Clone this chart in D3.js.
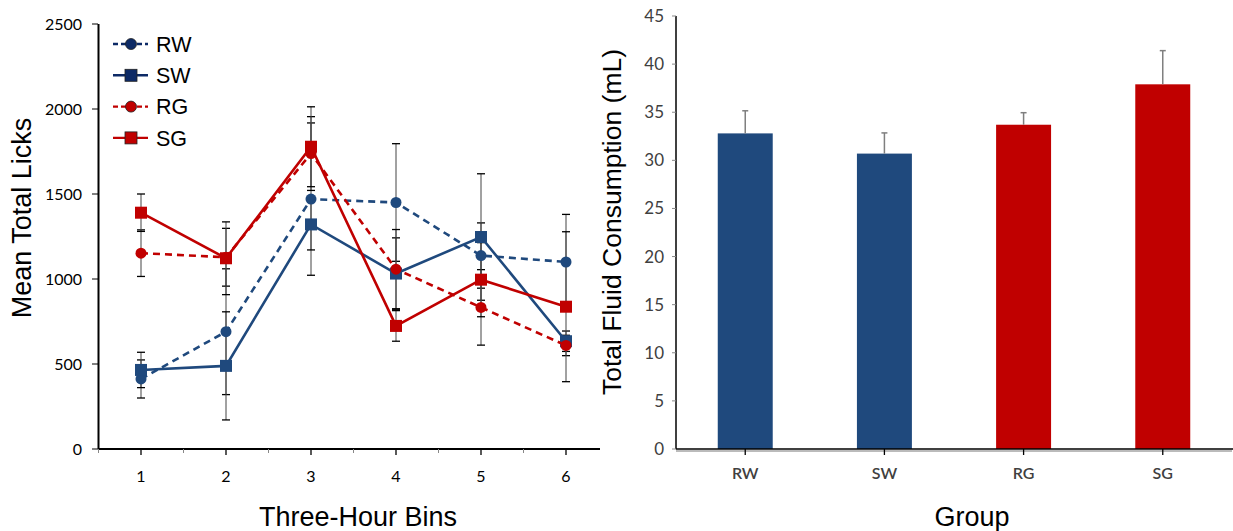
<!DOCTYPE html>
<html><head><meta charset="utf-8">
<script src="https://cdn.jsdelivr.net/npm/d3@7"></script>
<style>body{margin:0;background:#fff}svg{display:block}</style>
</head><body>
<svg id="c" width="1233" height="531"></svg>
<script>
const bins = [1,2,3,4,5,6];
const seriesNames = ["RW","SW","RG","SG"];
const rwVals = [412, 690, 1470, 1450, 1138, 1100];
const swVals = [465, 489, 1321, 1032, 1247, 634];
const rgVals = [1152, 1128, 1738, 1058, 833, 609];
const sgVals = [1390, 1122, 1778, 724, 996, 837];
const rwErr = [112, 370, 448, 346, 192, 280];
const swErr = [104, 318, 150, 210, 372, 60];
const rgErr = [137, 170, 217, 233, 222, 60];
const sgErr = [110, 214, 235, 90, 218, 441];
const leftYTicks = [0,500,1000,1500,2000,2500];

const groups = ["RW","SW","RG","SG"];
const fluidVals = [32.8, 30.7, 33.7, 37.9];
const fluidErr = [2.35, 2.15, 1.25, 3.5];
const rightYTicks = [0,5,10,15,20,25,30,35,40,45];

const BLUE = "#1f497d", RED = "#c00000";
const svg = d3.select("#c");
const tickFont = "Lato,'Open Sans',sans-serif";
const titleFont = "Arial,'Liberation Sans',sans-serif";

// ---------- Left chart ----------
const x = d3.scaleLinear().domain([0.5,6.5]).range([98.5,608.5]);
const y = d3.scaleLinear().domain([0,2500]).range([449,24]);
const L = svg.append("g");

L.append("line").attr("x1",98.5).attr("x2",98.5).attr("y1",24).attr("y2",449).attr("stroke","#000").attr("stroke-width",2);
L.append("line").attr("x1",98).attr("x2",600).attr("y1",449).attr("y2",449).attr("stroke","#000").attr("stroke-width",2);
leftYTicks.forEach(t=>{
  L.append("line").attr("x1",92).attr("x2",98).attr("y1",y(t)).attr("y2",y(t)).attr("stroke","#000");
  L.append("text").attr("x",82).attr("y",y(t)).attr("dy","0.35em").attr("text-anchor","end")
   .attr("font-family",tickFont).attr("font-size",16).text(t);
});
bins.forEach(b=>{
  L.append("line").attr("x1",x(b)).attr("x2",x(b)).attr("y1",449).attr("y2",455).attr("stroke","#000").attr("stroke-width",1.3);
  L.append("text").attr("x",x(b)).attr("y",476).attr("dy","0.35em").attr("text-anchor","middle")
   .attr("font-family",tickFont).attr("font-size",16).text(b);
});
[0.5,1.5,2.5,3.5,4.5,5.5].forEach(b=>{
  L.append("line").attr("x1",x(b)).attr("x2",x(b)).attr("y1",449).attr("y2",453).attr("stroke","#888");
});
L.append("text").attr("transform","translate(31,218) rotate(-90)").attr("text-anchor","middle")
 .attr("font-family",titleFont).attr("font-size",27).text("Mean Total Licks");
L.append("text").attr("x",358).attr("y",526).attr("text-anchor","middle")
 .attr("font-family",titleFont).attr("font-size",27).text("Three-Hour Bins");

const series = [
  {name:"RW", vals:rwVals, err:rwErr, color:BLUE, leg:"#0d2a66", dash:"7,5", shape:"circle"},
  {name:"SW", vals:swVals, err:swErr, color:BLUE, leg:"#0d2a66", dash:null, shape:"square"},
  {name:"RG", vals:rgVals, err:rgErr, color:RED, leg:RED, dash:"7,5", shape:"circle"},
  {name:"SG", vals:sgVals, err:sgErr, color:RED, leg:RED, dash:null, shape:"square"}
];
const EB = L.append("g");
series.forEach(s=>{
  s.vals.forEach((v,i)=>{
    const cx = x(bins[i]);
    EB.append("line").attr("x1",cx).attr("x2",cx).attr("y1",y(v-s.err[i])).attr("y2",y(v+s.err[i])).attr("stroke","#444").attr("stroke-width",1);
    [v-s.err[i], v+s.err[i]].forEach(e=>{
      EB.append("line").attr("x1",cx-4).attr("x2",cx+4).attr("y1",y(e)).attr("y2",y(e)).attr("stroke","#000").attr("stroke-width",1.3);
    });
  });
});
const line = d3.line().x((d,i)=>x(bins[i])).y(d=>y(d));
function marker(g, shape, cx, cy, color, stroke){
  let m;
  if(shape==="circle") m = g.append("circle").attr("cx",cx).attr("cy",cy).attr("r",5.5).attr("fill",color);
  else m = g.append("rect").attr("x",cx-6).attr("y",cy-6).attr("width",12).attr("height",12).attr("fill",color);
  if(stroke) m.attr("stroke",stroke).attr("stroke-width",0.8);
}
series.forEach(s=>{
  L.append("path").datum(s.vals).attr("d",line).attr("fill","none").attr("stroke",s.color)
   .attr("stroke-width",2.6).attr("stroke-dasharray",s.dash);
  s.vals.forEach((v,i)=>marker(L,s.shape,x(bins[i]),y(v),s.color));
});
series.forEach((s,i)=>{
  const ly = 44 + i*31.3;
  L.append("line").attr("x1",113).attr("x2",148).attr("y1",ly).attr("y2",ly).attr("stroke",s.leg)
   .attr("stroke-width",2.4).attr("stroke-dasharray",s.dash?"5,3":null);
  marker(L,s.shape,131,ly,s.leg,"#222");
  L.append("text").attr("x",156).attr("y",ly).attr("dy","0.36em").attr("font-family",titleFont)
   .attr("font-size",21.5).text(s.name);
});

// ---------- Right chart ----------
const xb = d3.scaleBand().domain(groups).range([676,1232]).paddingInner(0.605).paddingOuter(0.3);
const yb = d3.scaleLinear().domain([0,45]).range([449,16]);
const R = svg.append("g");
R.append("line").attr("x1",676).attr("x2",1232).attr("y1",451).attr("y2",451).attr("stroke","#bbb").attr("stroke-width",2);
groups.forEach((g,i)=>{
  R.append("rect").attr("x",xb(g)).attr("width",xb.bandwidth()).attr("y",yb(fluidVals[i]))
   .attr("height",yb(0)-yb(fluidVals[i])).attr("fill",i<2?BLUE:RED);
  const cx = xb(g)+xb.bandwidth()/2;
  R.append("line").attr("x1",cx).attr("x2",cx).attr("y1",yb(fluidVals[i])).attr("y2",yb(fluidVals[i]+fluidErr[i])).attr("stroke","#7f7f7f").attr("stroke-width",1.5);
  R.append("line").attr("x1",cx-3).attr("x2",cx+3).attr("y1",yb(fluidVals[i]+fluidErr[i])).attr("y2",yb(fluidVals[i]+fluidErr[i])).attr("stroke","#7f7f7f").attr("stroke-width",1.5);
  R.append("line").attr("x1",cx).attr("x2",cx).attr("y1",449).attr("y2",455).attr("stroke","#000").attr("stroke-width",1.3);
  R.append("text").attr("x",cx).attr("y",479).attr("text-anchor","middle").attr("font-family",tickFont)
   .attr("font-size",16).attr("font-weight",600).attr("fill","#404040").text(g);
});
R.append("line").attr("x1",676).attr("x2",676).attr("y1",16).attr("y2",449).attr("stroke","#000").attr("stroke-width",1.5);
R.append("line").attr("x1",676).attr("x2",1233).attr("y1",449).attr("y2",449).attr("stroke","#000").attr("stroke-width",1.5);
rightYTicks.forEach(t=>{
  R.append("line").attr("x1",672).attr("x2",676).attr("y1",yb(t)).attr("y2",yb(t)).attr("stroke","#888");
  R.append("text").attr("x",664).attr("y",yb(t)).attr("dy","0.35em").attr("text-anchor","end")
   .attr("font-family",tickFont).attr("font-size",17).attr("fill","#404040").text(t);
});
R.append("line").attr("x1",590).attr("x2",598).attr("y1",449).attr("y2",449).attr("stroke","#000").attr("stroke-width",1.5);
R.append("text").attr("transform","translate(621,222) rotate(-90)").attr("text-anchor","middle")
 .attr("font-family",titleFont).attr("font-size",26.5).text("Total Fluid Consumption (mL)");
R.append("text").attr("x",972).attr("y",526).attr("text-anchor","middle")
 .attr("font-family",titleFont).attr("font-size",27).text("Group");
</script>
</body></html>
